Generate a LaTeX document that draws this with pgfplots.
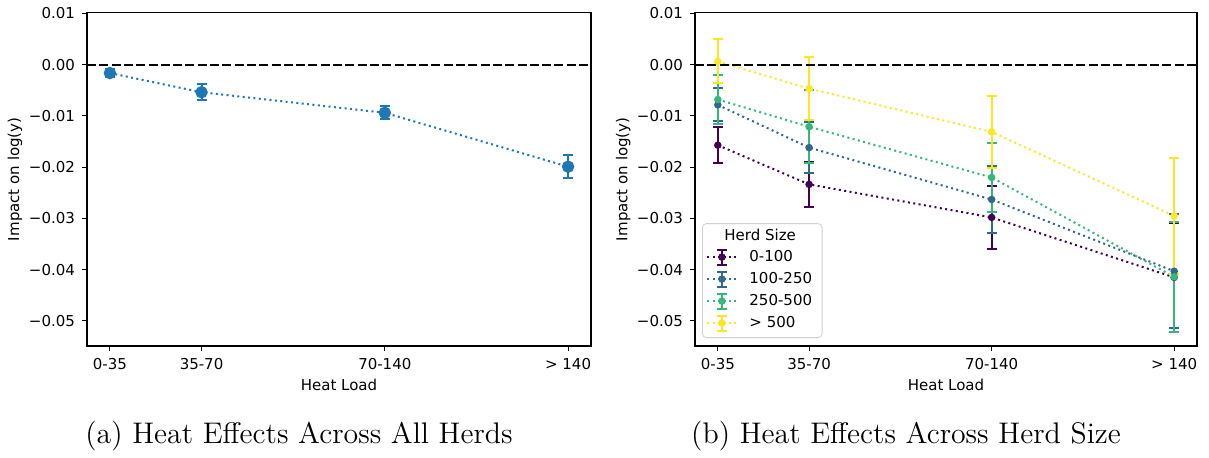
\documentclass[border=0pt]{standalone}
\usepackage{fontspec}
\usepackage{pgfplots}
\pgfplotsset{compat=1.18}
\newfontfamily\dejavu{DejaVu Sans}
\definecolor{c0}{HTML}{1F77B4}
\definecolor{v1}{HTML}{440154}
\definecolor{v2}{HTML}{31688E}
\definecolor{v3}{HTML}{35B779}
\definecolor{v4}{HTML}{FDE725}
\newcommand{\tfont}{\fontsize{7.5}{9}\selectfont\dejavu}
\pgfplotsset{
  myaxis/.style={
    scale only axis, height=166.75pt,
    xmin=-0.25, xmax=5.25, ymin=-0.0549, ymax=0.0102,
    scaled y ticks=false,
    xtick={0,1,3,5}, xticklabels={0-35,35-70,70-140,> 140},
    ytick={0.01,0,-0.01,-0.02,-0.03,-0.04,-0.05},
    yticklabels={0.01,0.00,−0.01,−0.02,−0.03,−0.04,−0.05},
    xtick pos=bottom, ytick pos=left,
    tick align=outside, major tick length=2.5pt,
    tick style={black, line width=0.5pt},
    axis line style={line width=0.6pt},
    ticklabel style={font=\tfont},
    label style={font=\tfont},
    xlabel={Heat Load}, ylabel={Impact on log(y)},
    xlabel style={at={(axis description cs:0.5,-0.117)}, anchor=center},
    ylabel style={at={(axis description cs:-0.143,0.5)}, anchor=center},
    error bars/y dir=both, error bars/y explicit,
    error bars/error mark=|,
    error bars/error bar style={solid, line width=1pt},
    error bars/error mark options={solid, line width=1pt, mark size=2.5pt},
  },
  dotline/.style={line width=1pt, dash pattern=on 1pt off 1.7pt, mark=*, mark options={solid}},
  zeroline/.style={black, line width=1pt, dash pattern=on 4.5pt off 1.65pt, forget plot, error bars/y dir=none},
}
\begin{document}
\begin{tikzpicture}
\useasboundingbox (0,0) rectangle (604.5pt,228.5pt);
% ---------------- left panel
\begin{axis}[myaxis, width=252pt, at={(43.5pt,55.5pt)}, anchor=south west]
\addplot[c0, dotline, mark size=2.6pt] coordinates {
 (0,-0.00162) +- (0,0.0008)
 (1,-0.00537) +- (0,0.0016)
 (3,-0.00938) +- (0,0.0013)
 (5,-0.0199)  +- (0,0.0022)
};
\addplot[zeroline] coordinates {(-0.25,0) (5.25,0)};
\end{axis}
% ---------------- right panel
\begin{axis}[myaxis, width=251pt, at={(347.5pt,55.5pt)}, anchor=south west,
  legend cell align=left,
  legend style={at={(0.014,0.024)}, anchor=south west, font=\tfont,
    draw=black!18, rounded corners=2pt, fill=white, fill opacity=0.8, text opacity=1,
    inner xsep=2pt, inner ysep=3pt,
    nodes={inner ysep=0pt, inner xsep=3pt, text height=5.5pt, text depth=1.5pt},
    row sep=2.5pt},
  legend image code/.code={
    \draw[#1, mark=none] (0pt,0pt) -- (14.5pt,0pt);
    \draw[#1, solid, mark=none, line width=1pt] (7.25pt,-3.75pt) -- (7.25pt,3.75pt);
    \draw[#1, solid, mark=none, line width=1pt] (4.75pt,3.75pt) -- (9.75pt,3.75pt);
    \draw[#1, solid, mark=none, line width=1pt] (4.75pt,-3.75pt) -- (9.75pt,-3.75pt);
    \draw[#1] plot coordinates {(7.25pt,0pt)};
  }]
\addlegendimage{empty legend}
\addlegendentry{\hspace{-9.5pt}Herd Size}
\addplot[v1, dotline, mark size=1.35pt] coordinates {
 (0,-0.0157)  +- (0,0.0035)
 (1,-0.02335) +- (0,0.0044)
 (3,-0.0298)  +- (0,0.0061)
 (5,-0.0415)  +- (0,0.0107)
};
\addlegendentry{\hspace{3pt}0-100}
\addplot[v2, dotline, mark size=1.35pt] coordinates {
 (0,-0.00783) +- (0,0.0032)
 (1,-0.01617) +- (0,0.0050)
 (3,-0.0263)  +- (0,0.0066)
 (5,-0.0403)  +- (0,0.0111)
};
\addlegendentry{\hspace{3pt}100-250}
\addplot[v3, dotline, mark size=1.35pt] coordinates {
 (0,-0.00679) +- (0,0.0048)
 (1,-0.0121)  +- (0,0.0071)
 (3,-0.0220)  +- (0,0.0067)
 (5,-0.0414)  +- (0,0.0107)
};
\addlegendentry{\hspace{3pt}250-500}
\addplot[v4, dotline, mark size=1.35pt] coordinates {
 (0,0.00065)  +- (0,0.0043)
 (1,-0.00466) +- (0,0.0061)
 (3,-0.0131)  +- (0,0.0070)
 (5,-0.0295)  +- (0,0.0113)
};
\addlegendentry{\hspace{3pt}> 500}
\addplot[zeroline] coordinates {(-0.25,0) (5.25,0)};
\end{axis}
\node[anchor=base, font=\fontsize{14.9}{17}\selectfont] at (149.5pt,7pt) {(a) Heat Effects Across All Herds};
\node[anchor=base, font=\fontsize{14.9}{17}\selectfont] at (453pt,7pt) {(b) Heat Effects Across Herd Size};
\end{tikzpicture}
\end{document}
